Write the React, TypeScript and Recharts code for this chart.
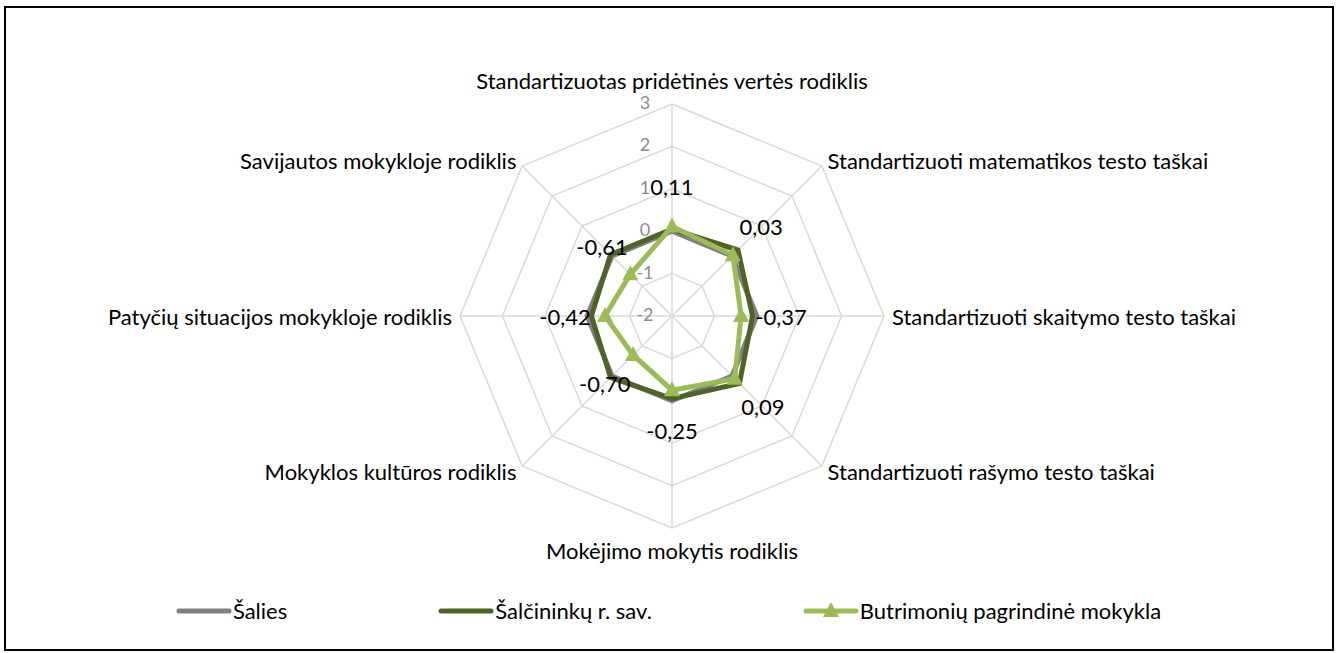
import { RadarChart, Radar, PolarGrid, PolarAngleAxis, PolarRadiusAxis } from 'recharts'

const categories = [
  'Standartizuotas pridėtinės vertės rodiklis',
  'Standartizuoti matematikos testo taškai',
  'Standartizuoti skaitymo testo taškai',
  'Standartizuoti rašymo testo taškai',
  'Mokėjimo mokytis rodiklis',
  'Mokyklos kultūros rodiklis',
  'Patyčių situacijos mokykloje rodiklis',
  'Savijautos mokykloje rodiklis',
]

const salies = [0, 0, 0, 0, 0, 0, 0, 0]
const salcininku = [0.05, 0.2, -0.1, 0.25, -0.05, 0.05, -0.1, 0.05]
const butrimoniu = [0.11, 0.03, -0.37, 0.09, -0.25, -0.7, -0.42, -0.61]

const radiusTicks = [-2, -1, 0, 1, 2, 3]

const seriesNames = ['Šalies', 'Šalčininkų r. sav.', 'Butrimonių pagrindinė mokykla']
const seriesColors = ['#808080', '#4f6228', '#9bbb59']

const data = categories.map((name, i) => ({
  name,
  salies: salies[i],
  salcininku: salcininku[i],
  butrimoniu: butrimoniu[i],
}))

const FONT = "Lato, sans-serif"
const CX = 672
const CY = 316

const Triangle = (props: any) => {
  const { cx, cy } = props
  if (cx == null || cy == null) return null
  return (
    <polygon
      points={`${cx},${cy - 9} ${cx + 8},${cy + 6} ${cx - 8},${cy + 6}`}
      fill="#9bbb59"
    />
  )
}

const AngleTick = (props: any) => {
  const { x, y, textAnchor, payload } = props
  let dy = 0
  if (textAnchor === 'middle') dy = y < CY ? -16 : 14
  return (
    <text
      x={x}
      y={y + dy}
      textAnchor={textAnchor}
      dominantBaseline="central"
      fontFamily={FONT}
      fontSize={22}
      fill="#000"
    >
      {payload.value}
    </text>
  )
}

const RadiusTick = (props: any) => {
  const { x, y, payload } = props
  return (
    <text
      x={x - 27}
      y={y - 2}
      textAnchor="middle"
      dominantBaseline="central"
      fontFamily={FONT}
      fontSize={18}
      fill="#8c8c8c"
    >
      {payload.value}
    </text>
  )
}

const ValueLabel = (props: any) => {
  const { x, y, value } = props
  const dx = x - CX
  const dy = y - CY
  const len = Math.sqrt(dx * dx + dy * dy) || 1
  return (
    <text
      x={x + (dx / len) * 40}
      y={y + (dy / len) * 40}
      textAnchor="middle"
      dominantBaseline="central"
      fontFamily={FONT}
      fontSize={22}
      fill="#000"
    >
      {Number(value).toFixed(2).replace('.', ',')}
    </text>
  )
}

function LegendRow() {
  return (
    <div
      style={{
        position: 'absolute',
        left: 0,
        top: 597,
        width: 1336,
        display: 'flex',
        justifyContent: 'center',
        gap: 150,
        fontFamily: FONT,
        fontSize: 22,
      }}
    >
      {seriesNames.map((n, i) => (
        <div key={n} style={{ display: 'flex', alignItems: 'center' }}>
          <svg width={58} height={26}>
            <line x1={4} y1={13} x2={54} y2={13} stroke={seriesColors[i]} strokeWidth={5} strokeLinecap="round" />
            {i === 2 && <Triangle cx={29} cy={13} />}
          </svg>
          <span>{n}</span>
        </div>
      ))}
    </div>
  )
}

export default function App() {
  return (
    <div style={{ position: 'absolute', left: 0, top: 0, width: 1336, height: 653, background: '#fff' }}>
      <div
        style={{
          position: 'absolute',
          left: 4,
          top: 6,
          width: 1330,
          height: 645,
          boxSizing: 'border-box',
          border: '2px solid #000',
        }}
      />
      <RadarChart
        width={1336}
        height={653}
        cx={CX}
        cy={CY}
        outerRadius={212}
        data={data}
        style={{ position: 'absolute', left: 0, top: 0 }}
      >
        <PolarGrid gridType="polygon" stroke="#d9d9d9" strokeWidth={1.5} />
        <PolarAngleAxis dataKey="name" tick={AngleTick} tickLine={false} axisLine={false} />
        <PolarRadiusAxis
          angle={90}
          domain={[-2, 3]}
          ticks={radiusTicks as any}
          tickCount={6}
          tick={RadiusTick}
          axisLine={false}
          tickLine={false}
        />
        <Radar
          name={seriesNames[0]}
          dataKey="salies"
          stroke={seriesColors[0]}
          strokeWidth={5}
          fill="none"
          dot={false}
          isAnimationActive={false}
        />
        <Radar
          name={seriesNames[1]}
          dataKey="salcininku"
          stroke={seriesColors[1]}
          strokeWidth={5}
          fill="none"
          dot={false}
          isAnimationActive={false}
        />
        <Radar
          name={seriesNames[2]}
          dataKey="butrimoniu"
          stroke={seriesColors[2]}
          strokeWidth={5}
          fill="none"
          dot={Triangle}
          label={ValueLabel}
          isAnimationActive={false}
        />
      </RadarChart>
      <LegendRow />
    </div>
  )
}
